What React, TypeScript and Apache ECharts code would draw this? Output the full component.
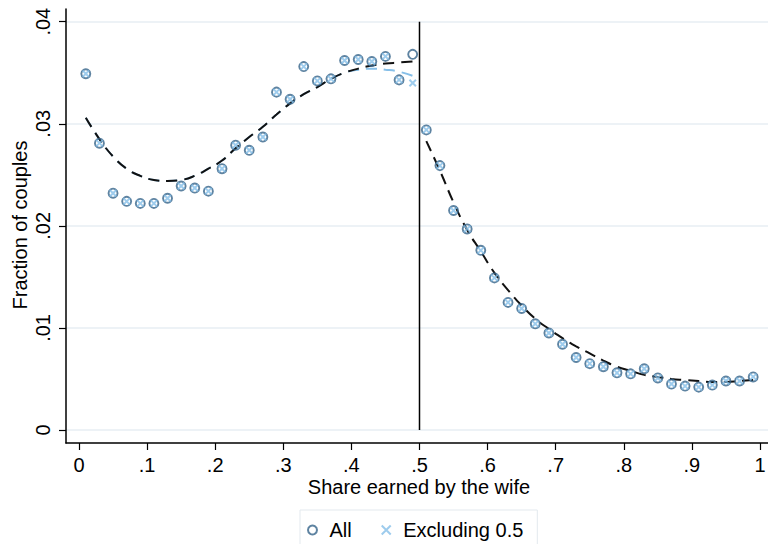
import React, { useEffect, useRef } from "react";
import * as echarts from "echarts";

// Bin midpoints (share earned by the wife)
const leftBins = [0.01, 0.03, 0.05, 0.07, 0.09, 0.11, 0.13, 0.15, 0.17, 0.19, 0.21, 0.23, 0.25, 0.27, 0.29, 0.31, 0.33, 0.35, 0.37, 0.39, 0.41, 0.43, 0.45, 0.47, 0.49];
const rightBins = [0.51, 0.53, 0.55, 0.57, 0.59, 0.61, 0.63, 0.65, 0.67, 0.69, 0.71, 0.73, 0.75, 0.77, 0.79, 0.81, 0.83, 0.85, 0.87, 0.89, 0.91, 0.93, 0.95, 0.97, 0.99];

// Fraction of couples, all
const allLeft = [0.0349, 0.0281, 0.0232, 0.0224, 0.0222, 0.0222, 0.0227, 0.0239, 0.0237, 0.0234, 0.0256, 0.0279, 0.0274, 0.0287, 0.0331, 0.0324, 0.0356, 0.0342, 0.0344, 0.0362, 0.0363, 0.0361, 0.0366, 0.0343, 0.0368];
const allRight = [0.0294, 0.0259, 0.0215, 0.0197, 0.0176, 0.0149, 0.0125, 0.0119, 0.0104, 0.0095, 0.0084, 0.0071, 0.0065, 0.0062, 0.0056, 0.0055, 0.0060, 0.0051, 0.0045, 0.0043, 0.0042, 0.0044, 0.0048, 0.0048, 0.0052];

// Fraction of couples, excluding 0.5
const exclLeft = [0.0349, 0.0281, 0.0232, 0.0224, 0.0222, 0.0222, 0.0227, 0.0239, 0.0237, 0.0234, 0.0256, 0.0279, 0.0274, 0.0287, 0.0331, 0.0324, 0.0356, 0.0342, 0.0344, 0.0362, 0.0363, 0.0361, 0.0366, 0.0343, 0.0340];
const exclRight = [0.0294, 0.0259, 0.0215, 0.0197, 0.0176, 0.0149, 0.0125, 0.0119, 0.0104, 0.0095, 0.0084, 0.0071, 0.0065, 0.0062, 0.0056, 0.0055, 0.0060, 0.0051, 0.0045, 0.0043, 0.0042, 0.0044, 0.0048, 0.0048, 0.0052];

// Fitted curves
const fitAllLeft = [0.0306, 0.0285, 0.0268, 0.0256, 0.0249, 0.0245, 0.0244, 0.0245, 0.0249, 0.0256, 0.0264, 0.0276, 0.0287, 0.0297, 0.0309, 0.0320, 0.0329, 0.0336, 0.0344, 0.0350, 0.0354, 0.0357, 0.0359, 0.0360, 0.0361];
const fitExclLeft = [0.0306, 0.0285, 0.0268, 0.0256, 0.0249, 0.0245, 0.0244, 0.0245, 0.0249, 0.0256, 0.0264, 0.0276, 0.0287, 0.0297, 0.0309, 0.0320, 0.0329, 0.0336, 0.0344, 0.0350, 0.0353, 0.0354, 0.0353, 0.0351, 0.0347];
const fitAllRight = [0.0283, 0.0254, 0.0223, 0.0196, 0.0175, 0.0154, 0.0137, 0.0122, 0.0109, 0.0099, 0.0090, 0.0082, 0.0075, 0.0068, 0.0062, 0.0058, 0.0054, 0.0052, 0.0050, 0.0049, 0.0048, 0.0047, 0.0047, 0.0048, 0.0049];

// Axis ticks
const xTicks = [0, 0.1, 0.2, 0.3, 0.4, 0.5, 0.6, 0.7, 0.8, 0.9, 1];
const yTicks = [0, 0.01, 0.02, 0.03, 0.04];
const cutoff = [[0.5, 0], [0.5, 0.04]];

const FONT = "'Liberation Sans', Arial, Helvetica, sans-serif";
const fmt = (v: number) => {
  if (v === 0) return "0";
  if (v === 1) return "1";
  return String(v).replace(/^0/, "");
};
const zip = (xs: number[], ys: number[]) => xs.map((x, i) => [x, ys[i]]);

const CIRCLE_EDGE = "#36648a";
const XCOLOR = "#86bfe8";

export default function App() {
  const ref = useRef<HTMLDivElement>(null);
  useEffect(() => {
    if (!ref.current) return;
    const chart = echarts.init(ref.current, null, { renderer: "svg" });
    const dashed = [11, 7];
    const option: any = {
      animation: false,
      backgroundColor: "#ffffff",
      textStyle: { fontFamily: FONT },
      grid: { left: 66, right: 0, top: 9, bottom: 101, containLabel: false, outerBoundsMode: "none" },
      xAxis: {
        type: "value",
        min: -0.01909,
        max: 1.01175,
        axisLine: { show: true, onZero: false, lineStyle: { color: "#000", width: 1.5 } },
        axisTick: { show: true, length: 7, customValues: xTicks, lineStyle: { color: "#000", width: 1.2 } },
        axisLabel: { customValues: xTicks, formatter: fmt, fontSize: 20, color: "#000", fontFamily: FONT, margin: 22, verticalAlign: "middle" },
        splitLine: { show: false },
      },
      yAxis: {
        type: "value",
        min: -0.001274,
        max: 0.041244,
        axisLine: { show: true, onZero: false, lineStyle: { color: "#000", width: 1.5 } },
        axisTick: { show: true, length: 7, customValues: yTicks, lineStyle: { color: "#000", width: 1.2 } },
        axisLabel: { customValues: yTicks, formatter: fmt, fontSize: 20, color: "#000", fontFamily: FONT, rotate: 90, margin: 23, verticalAlign: "middle" },
        splitLine: { show: true, lineStyle: { color: "#e7eef3", width: 1.5 } },
      },
      legend: {
        data: ["All", "Excluding 0.5"],
        left: 300,
        top: 510,
        orient: "horizontal",
        padding: [10, 14, 20, 7],
        itemWidth: 24,
        itemHeight: 9,
        itemGap: 29,
        borderColor: "#e3e9ee",
        borderWidth: 1,
        selectedMode: false,
        textStyle: { fontSize: 20, color: "#000", fontFamily: FONT, lineHeight: 20 },
      },
      graphic: [
        {
          type: "text",
          x: 419,
          y: 487,
          style: { text: "Share earned by the wife", fontSize: 20, fontFamily: FONT, fill: "#000", align: "center", verticalAlign: "middle" },
        },
        {
          type: "text",
          x: 20,
          y: 225,
          rotation: Math.PI / 2,
          style: { text: "Fraction of couples", fontSize: 20, fontFamily: FONT, fill: "#000", align: "center", verticalAlign: "middle" },
        },
      ],
      series: [
        {
          name: "cutoff",
          type: "line",
          data: cutoff,
          symbol: "none",
          lineStyle: { color: "#000", width: 1.5 },
          z: 1,
        },
        {
          name: "fitExclLeft",
          type: "line",
          data: zip(leftBins, fitExclLeft),
          symbol: "none",
          smooth: true,
          lineStyle: { color: XCOLOR, width: 2, type: dashed },
          z: 2,
        },
        {
          name: "fitAllLeft",
          type: "line",
          data: zip(leftBins, fitAllLeft),
          symbol: "none",
          smooth: true,
          lineStyle: { color: "#111", width: 2, type: dashed },
          z: 3,
        },
        {
          name: "fitAllRight",
          type: "line",
          data: zip(rightBins, fitAllRight),
          symbol: "none",
          smooth: true,
          lineStyle: { color: "#111", width: 2, type: dashed },
          z: 3,
        },
        {
          name: "All",
          type: "scatter",
          data: zip(leftBins, allLeft).concat(zip(rightBins, allRight)),
          symbol: "circle",
          symbolSize: 9,
          itemStyle: { color: "rgba(255,255,255,0)", borderColor: CIRCLE_EDGE, borderWidth: 1.9 },
          z: 4,
        },
        {
          name: "Excluding 0.5",
          type: "scatter",
          data: zip(leftBins, exclLeft).concat(zip(rightBins, exclRight)),
          symbol: "path://M0,0L10,10M10,0L0,10",
          symbolKeepAspect: true,
          symbolSize: 6.5,
          itemStyle: { color: "rgba(255,255,255,0)", borderColor: XCOLOR, borderWidth: 2 },
          z: 5,
        },
      ],
    };
    chart.setOption(option);
    return () => chart.dispose();
  }, []);
  return (
    <div
      ref={ref}
      style={{ position: "fixed", left: 0, top: 0, width: 768, height: 544, background: "#fff" }}
    />
  );
}
